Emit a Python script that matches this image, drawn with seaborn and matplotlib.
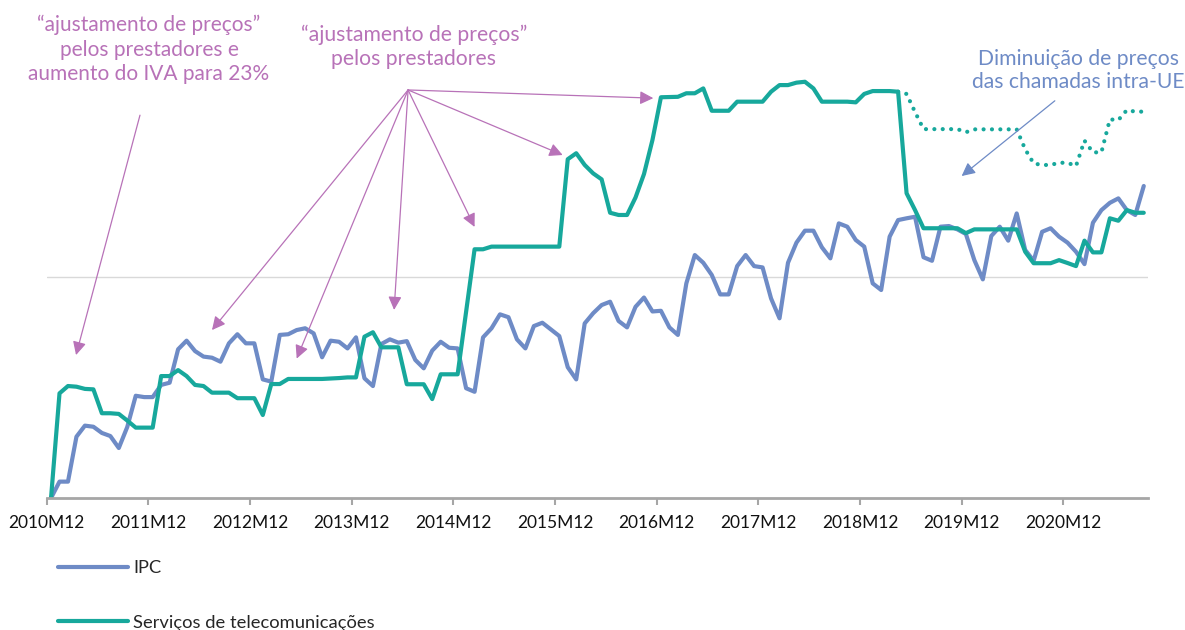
import numpy as np
import pandas as pd
import matplotlib
matplotlib.use("Agg")
import matplotlib.pyplot as plt
import seaborn as sns

# ---------------- data ----------------
months = [f"{2010 + (11 + k) // 12}M{(11 + k) % 12 + 1:02d}" for k in range(130)]  # 2010M12 .. 2021M09

ipc = [0.00, 0.74, 0.74, 2.77, 3.27, 3.22, 2.94, 2.80, 2.26, 3.21,
       4.62, 4.56, 4.56, 5.11, 5.21, 6.72, 7.11, 6.64, 6.39, 6.34,
       6.16, 6.99, 7.40, 6.99, 6.99, 5.36, 5.26, 7.37, 7.40, 7.59,
       7.67, 7.44, 6.36, 7.11, 7.06, 6.76, 7.26, 5.41, 5.06, 6.96,
       7.17, 7.02, 7.09, 6.24, 5.86, 6.66, 7.06, 6.79, 6.76, 4.96,
       4.80, 7.26, 7.67, 8.30, 8.17, 7.17, 6.76, 7.77, 7.92, 7.62,
       7.32, 5.91, 5.36, 7.89, 8.35, 8.72, 8.87, 8.00, 7.71, 8.64,
       9.06, 8.43, 8.46, 7.71, 7.37, 9.70, 10.98, 10.63, 10.08, 9.20,
       9.20, 10.48, 10.98, 10.48, 10.42, 9.02, 8.12, 10.63, 11.54, 12.08,
       12.08, 11.33, 10.83, 12.41, 12.26, 11.66, 11.36, 9.70, 9.40, 11.81,
       12.56, 12.64, 12.71, 10.88, 10.72, 12.26, 12.29, 12.14, 11.93, 10.75,
       9.88, 11.84, 12.26, 11.63, 12.86, 11.21, 10.72, 12.03, 12.19, 11.81,
       11.54, 11.13, 10.57, 12.44, 13.01, 13.34, 13.54, 13.01, 12.79, 14.10]

telecom = [0.00, 4.73, 5.06, 5.03, 4.93, 4.91, 3.83, 3.83, 3.80, 3.50,
           3.18, 3.18, 3.18, 5.51, 5.51, 5.78, 5.51, 5.11, 5.06, 4.76,
           4.76, 4.76, 4.51, 4.51, 4.51, 3.75, 5.15, 5.15, 5.38, 5.38,
           5.38, 5.38, 5.38, 5.40, 5.42, 5.45, 5.45, 7.29, 7.49, 6.81,
           6.81, 6.81, 5.14, 5.14, 5.14, 4.47, 5.59, 5.59, 5.59, 8.40,
           11.24, 11.24, 11.36, 11.36, 11.36, 11.36, 11.36, 11.36, 11.36, 11.36,
           11.36, 15.31, 15.58, 15.05, 14.67, 14.40, 12.89, 12.79, 12.79, 13.58,
           14.64, 16.18, 18.11, 18.12, 18.13, 18.29, 18.29, 18.51, 17.50, 17.50,
           17.50, 17.91, 17.91, 17.91, 17.91, 18.36, 18.66, 18.66, 18.77, 18.81,
           18.51, 17.91, 17.91, 17.91, 17.91, 17.88, 18.26, 18.39, 18.39, 18.39,
           18.36, 13.77, 13.01, 12.19, 12.19, 12.19, 12.19, 12.19, 11.97, 12.14,
           12.14, 12.14, 12.14, 12.14, 12.14, 11.13, 10.61, 10.61, 10.61, 10.75,
           10.62, 10.48, 11.63, 11.10, 11.10, 12.64, 12.53, 13.01, 12.89, 12.89]

# telecom services without the intra-EU call price cut (2019M04 .. 2021M09), dotted
telecom_sem_ue_months = months[100:]
telecom_sem_ue = [18.36, 18.26, 17.44, 16.67, 16.67, 16.67, 16.67, 16.67, 16.53, 16.66,
                  16.66, 16.66, 16.66, 16.66, 16.66, 15.76, 15.12, 15.05, 15.05, 15.15,
                  15.15, 15.00, 16.15, 15.62, 15.62, 17.11, 17.08, 17.53, 17.46, 17.46]

series_names = ["IPC", "Serviços de telecomunicações"]

# ---------------- style ----------------
BLUE = "#6E8BC6"
TEAL = "#17A89C"
PINK = "#B872B8"
AXIS_GREY = "#A6A6A6"

sns.set_theme(style="white")
plt.rcParams["font.family"] = ["Lato", "DejaVu Sans"]

W, H = 1185, 630
fig, ax = plt.subplots(figsize=(W / 100, H / 100), dpi=100)
fig.subplots_adjust(left=46.8 / W, right=1148 / W, bottom=1 - 498 / H, top=1 - 66.5 / H)

n = len(months)
pos = {m: i for i, m in enumerate(months)}
df = pd.DataFrame({
    "idx": [pos[m] for m in months] * 2,
    "valor": ipc + telecom,
    "serie": [series_names[0]] * n + [series_names[1]] * n,
})
df_dot = pd.DataFrame({"idx": [pos[m] for m in telecom_sem_ue_months], "valor": telecom_sem_ue})

sns.lineplot(data=df, x="idx", y="valor", hue="serie", hue_order=series_names,
             palette={series_names[0]: BLUE, series_names[1]: TEAL},
             linewidth=3, ax=ax, solid_joinstyle="round", solid_capstyle="round",
             estimator=None)
sns.lineplot(data=df_dot, x="idx", y="valor", color=TEAL, linewidth=3, ax=ax,
             linestyle=(0, (0.01, 2.0)), dash_capstyle="round", legend=False,
             estimator=None)

# ---------------- axes ----------------
ax.set_xlim(-0.5, n - 0.5)
ax.set_ylim(0, 19.5)
tick_pos = [k - 0.5 for k in range(0, 121, 12)]
ax.set_xticks(tick_pos)
ax.set_xticklabels([months[k] for k in range(0, 121, 12)])
ax.set_yticks([10])
ax.set_yticklabels([])
ax.yaxis.grid(True, color="#D9D9D9", linewidth=1)
ax.xaxis.grid(False)
ax.tick_params(axis="y", length=0)
ax.tick_params(axis="x", length=5, width=1.5, color=AXIS_GREY, labelsize=12.5,
               pad=7.5, labelcolor="#111111", direction="out", bottom=True)
ax.set_xlabel("")
ax.set_ylabel("")
for s in ["left", "right", "top"]:
    ax.spines[s].set_visible(False)
ax.spines["bottom"].set_color(AXIS_GREY)
ax.spines["bottom"].set_linewidth(2)
ax.set_axisbelow(True)

# ---------------- legend ----------------
handles, labels = ax.get_legend_handles_labels()
if ax.get_legend() is not None:
    ax.get_legend().remove()
fig.legend(handles[:2], labels[:2], loc="upper left", bbox_to_anchor=(58 / W, 1 - 560 / H),
           frameon=False, fontsize=13.25, handlelength=3.8, handletextpad=0.3,
           labelspacing=2.1, borderpad=0, borderaxespad=0)

# ---------------- annotations ----------------
def arrow(tip, start, color):
    ax.annotate("", xy=tip, xytext=start, annotation_clip=False,
                arrowprops=dict(arrowstyle="-|>", color=color, lw=0.9,
                                mutation_scale=20, shrinkA=0, shrinkB=0))

arrow((2.95, 6.46), (10.5, 17.3), PINK)
start2 = (42.15, 18.44)
for tip in [(19.0, 7.59), (29.0, 6.30), (40.5, 8.50), (50.0, 12.25), (60.4, 15.50), (71.1, 18.07)]:
    arrow(tip, start2, PINK)
arrow((107.5, 14.55), (118.5, 17.95), BLUE)

fig.text(149 / W, 1 - 49.5 / H, "“ajustamento de preços”\npelos prestadores e\naumento do IVA para 23%",
         ha="center", va="center", color=PINK, fontsize=15, linespacing=1.27)
fig.text(414 / W, 1 - 46.5 / H, "“ajustamento de preços”\npelos prestadores",
         ha="center", va="center", color=PINK, fontsize=15.2, linespacing=1.27)
fig.text(1078 / W, 1 - 70.5 / H, "Diminuição de preços\ndas chamadas intra-UE",
         ha="center", va="center", color=BLUE, fontsize=15.2, linespacing=1.15)

fig.savefig("out.png", dpi=100)
